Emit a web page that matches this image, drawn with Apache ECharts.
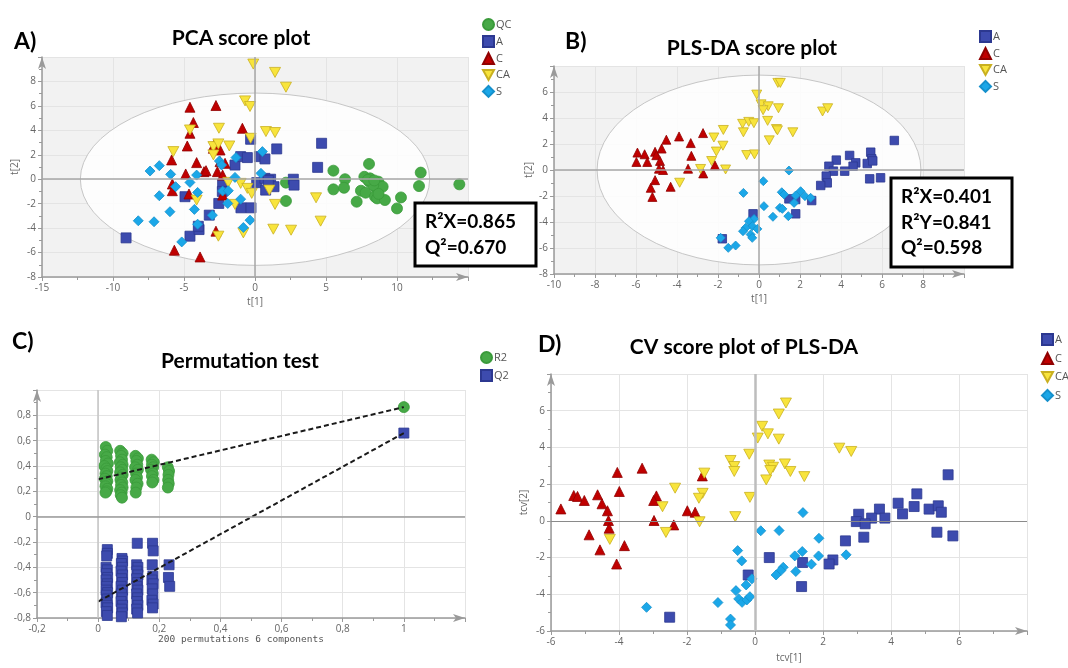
<!DOCTYPE html>
<html>
<head>
<meta charset="utf-8">
<script src="https://cdn.jsdelivr.net/npm/echarts@6/dist/echarts.min.js"></script>
<style>
  body { margin: 0; background: #fff; }
  #main { width: 1068px; height: 668px; }
</style>
</head>
<body>
<div id="main"></div>
<script>
// A) PCA scores t[1], t[2]
var pcaQC = [[5.52,0.7],[6.34,0.0],[5.52,-0.83],[6.27,-0.7],[8.03,1.25],[7.7,0.2],[8.1,0.07],[8.69,-0.2],[8.05,-0.2],[8.57,-0.83],[8.99,-0.61],[7.46,-0.94],[7.79,-1.1],[8.45,-1.43],[8.6,-1.57],[9.15,-1.7],[7.16,-1.84],[10.28,-1.49],[10.0,-2.39],[11.67,0.54],[11.55,-0.56],[14.39,-0.42],[2.18,-0.28],[2.18,-1.78],[8.33,-0.48],[7.95,-0.05],[8.4,-0.1],[8.7,-1.2]];
var pcaA = [[-9.08,-4.8],[-4.93,-1.43],[-4.58,-4.66],[-3.94,-4.12],[-3.99,-3.85],[-3.22,-2.94],[-2.55,-1.98],[-2.28,-0.42],[-2.3,-1.0],[-1.41,1.16],[-1.01,1.85],[-0.54,1.77],[-0.31,3.27],[0.31,1.85],[0.7,1.66],[1.53,2.48],[4.69,2.94],[4.41,0.97],[-0.99,-2.34],[-0.28,-2.34],[0.12,-0.28],[0.7,0.07],[1.1,0.0],[0.75,-0.89],[1.34,-0.61],[2.7,0.0],[2.75,-0.48],[0.94,-0.1]];
var pcaC = [[-4.58,5.89],[-2.75,6.03],[-4.34,4.64],[-4.58,3.76],[-4.77,2.72],[-5.87,1.58],[-4.11,1.36],[-4.88,0.43],[-5.82,-0.39],[-5.82,-0.94],[-4.65,-1.21],[-3.59,0.62],[-3.45,0.7],[-2.93,2.53],[-2.46,2.39],[-2.46,1.44],[-2.11,1.3],[-2.65,0.62],[-2.28,0.34],[-2.28,-1.3],[-0.89,4.17],[-2.75,-4.25],[-5.68,-5.81],[-3.87,-6.36],[-2.89,2.8]];
var pcaCA = [[-0.12,9.42],[1.41,8.74],[2.18,7.53],[-0.7,6.41],[-0.35,5.95],[-4.58,4.03],[-2.54,4.17],[-0.31,3.35],[0.77,3.9],[1.41,3.82],[-5.75,2.26],[-2.93,2.67],[-2.58,2.89],[-1.81,2.72],[-2.93,1.99],[-1.88,-0.26],[-1.01,-0.34],[-0.54,-0.75],[-0.23,-1.16],[1.01,-0.89],[1.41,-2.06],[-1.41,-2.06],[-4.11,-1.71],[4.3,-1.52],[4.62,-3.43],[1.29,-4.09],[2.54,-4.17],[-0.82,-4.39],[-2.58,-4.66]];
var pcaS = [[-7.39,0.67],[-6.74,1.11],[-5.94,0.4],[-5.59,-0.61],[-4.58,-0.26],[-4.11,0.34],[-6.74,-1.35],[-5.99,-2.66],[-8.22,-3.4],[-7.11,-3.48],[-5.16,-5.13],[-4.27,-2.47],[-4.04,-1.08],[-4.04,-3.68],[-3.0,-2.94],[-2.51,1.49],[-2.35,1.16],[-2.28,-0.97],[-1.88,-0.94],[-1.92,-1.98],[-1.41,0.15],[-1.34,1.77],[-1.01,-1.63],[-0.82,-3.95],[-0.35,-3.35],[0.52,2.26],[0.42,0.48]];
var pcaEllipse = [[0, 0, 12.3, 7.05]];
var pcaStats = ['R\u00b2X=0.865', 'Q\u00b2=0.670'];

// B) PLS-DA scores
var plsA = [[6.6,2.27],[5.45,1.37],[5.5,0.86],[5.28,0.5],[5.55,0.7],[4.42,1.12],[4.72,0.55],[4.59,0.29],[4.18,-0.09],[3.77,0.76],[3.41,0.29],[3.63,-0.09],[3.28,-0.47],[3.33,-0.99],[3.01,-1.19],[5.4,-0.68],[5.93,-0.6],[2.57,-2.35],[1.79,-2.27],[1.46,-2.22],[1.79,-3.37],[-0.29,-3.37],[-1.79,-5.29]];
var plsC = [[-5.93,1.34],[-5.58,1.21],[-5.98,0.62],[-5.45,0.62],[-5.07,1.4],[-5.01,1.14],[-4.75,1.65],[-4.52,2.33],[-3.9,2.58],[-3.33,2.07],[-3.3,1.09],[-2.73,2.84],[-4.83,0.7],[-4.88,0.1],[-4.68,0.0],[-3.46,0.1],[-2.72,-0.26],[-2.15,0.36],[-5.07,-0.78],[-5.28,-1.37],[-4.31,-1.29],[-5.2,-2.07]];
var plsCA = [[0.92,6.7],[1.04,6.7],[-0.11,5.8],[0.1,5.05],[0.45,4.9],[0.2,4.6],[0.95,4.75],[3.1,4.5],[3.35,4.75],[-0.8,3.55],[-0.76,2.9],[-0.5,3.7],[-0.25,3.6],[0.42,3.78],[0.85,3.15],[0.9,3.05],[1.65,2.9],[0.5,2.28],[-1.74,3.08],[-2.2,2.5],[-1.76,1.87],[-2.08,1.42],[-0.6,1.15],[-0.22,1.2],[-2.31,0.69],[-2.85,0.08],[-1.63,0.04],[-3.87,-0.98]];
var plsS = [[1.46,-0.04],[0.21,-0.86],[-0.76,-1.76],[1.11,-1.71],[1.22,-1.88],[2.03,-1.63],[2.24,-2.01],[2.52,-2.14],[1.79,-1.96],[1.71,-2.53],[0.24,-2.78],[1.02,-2.91],[1.14,-2.99],[0.68,-3.6],[1.43,-3.55],[-0.24,-3.76],[-0.49,-3.94],[-0.33,-4.32],[-0.65,-4.45],[-0.08,-4.53],[-0.78,-4.71],[-0.41,-4.96],[-0.33,-5.22],[-1.87,-5.22],[-1.14,-5.81],[-1.5,-5.99]];
var plsEllipse = [[0, 0, 7.9, 7.3]];
var plsStats = ['R\u00b2X=0.401', 'R\u00b2Y=0.841', 'Q\u00b2=0.598'];

// C) permutation test, 200 permutations
var permR2 = [[0.025,0.55],[0.03,0.52],[0.022,0.49],[0.028,0.47],[0.025,0.44],[0.032,0.42],[0.02,0.4],[0.027,0.38],[0.03,0.36],[0.024,0.34],[0.028,0.32],[0.022,0.3],[0.03,0.28],[0.026,0.26],[0.024,0.24],[0.03,0.22],[0.027,0.2],[0.024,0.19],
  [0.072,0.52],[0.08,0.5],[0.075,0.48],[0.078,0.45],[0.071,0.43],[0.08,0.41],[0.074,0.39],[0.079,0.37],[0.072,0.35],[0.08,0.33],[0.076,0.31],[0.073,0.29],[0.079,0.27],[0.075,0.25],[0.08,0.23],[0.072,0.21],[0.077,0.19],[0.074,0.17],[0.078,0.15],
  [0.122,0.48],[0.13,0.46],[0.125,0.44],[0.128,0.41],[0.121,0.39],[0.13,0.37],[0.124,0.34],[0.127,0.31],[0.122,0.29],[0.129,0.26],[0.125,0.23],[0.123,0.19],
  [0.175,0.45],[0.182,0.43],[0.176,0.41],[0.18,0.39],[0.173,0.37],[0.179,0.34],[0.176,0.32],[0.181,0.29],[0.177,0.27],
  [0.228,0.39],[0.232,0.36],[0.23,0.33],[0.229,0.29],[0.231,0.26],[0.228,0.23],
  [1,0.865]];
var permQ2 = [[0.03,-0.26],[0.03,-0.29],[0.028,-0.31],[0.026,-0.4],[0.03,-0.42],[0.027,-0.45],[0.031,-0.48],[0.026,-0.5],[0.03,-0.53],[0.028,-0.55],[0.026,-0.58],[0.031,-0.6],[0.027,-0.62],[0.03,-0.65],[0.026,-0.68],[0.029,-0.7],[0.031,-0.72],[0.027,-0.75],[0.03,-0.78],
  [0.078,-0.33],[0.08,-0.35],[0.076,-0.37],[0.079,-0.4],[0.075,-0.43],[0.08,-0.46],[0.077,-0.49],[0.079,-0.52],[0.075,-0.55],[0.08,-0.58],[0.076,-0.61],[0.079,-0.64],[0.075,-0.67],[0.08,-0.7],[0.077,-0.73],[0.079,-0.76],[0.076,-0.79],
  [0.128,-0.21],[0.126,-0.38],[0.13,-0.4],[0.127,-0.43],[0.13,-0.46],[0.126,-0.49],[0.129,-0.52],[0.127,-0.55],[0.13,-0.58],[0.126,-0.61],[0.129,-0.64],[0.127,-0.67],[0.13,-0.7],[0.126,-0.73],[0.129,-0.76],
  [0.178,-0.21],[0.18,-0.27],[0.177,-0.38],[0.179,-0.47],[0.176,-0.5],[0.18,-0.53],[0.177,-0.57],[0.179,-0.61],[0.176,-0.66],[0.18,-0.69],[0.178,-0.72],
  [0.232,-0.38],[0.23,-0.48],[0.234,-0.55],
  [1,0.66]];
var r2Line = [[0,0.295],[1,0.865]];
var q2Line = [[0,-0.67],[1,0.66]];

// D) cross-validated scores tcv[1], tcv[2]
var cvA = [[5.68,2.51],[4.76,1.47],[4.21,0.96],[4.34,0.38],[4.68,0.78],[5.12,0.64],[5.39,0.82],[5.48,0.47],[5.35,-0.62],[5.82,-0.82],[3.66,0.64],[3.82,0.15],[3.43,0.15],[3.05,0.36],[2.98,-0.04],[3.24,-0.16],[3.2,-0.89],[2.66,-1.09],[2.29,-2.13],[2.18,-2.35],[1.4,-2.27],[1.37,-3.58],[0.42,-2.0],[-0.2,-2.95],[-2.51,-5.25]];
var cvC = [[-5.71,0.65],[-5.33,1.38],[-5.22,1.33],[-5.02,1.11],[-4.63,1.42],[-4.5,0.93],[-4.34,0.55],[-4.31,0.02],[-4.29,-0.4],[-4.88,-0.76],[-4.56,-1.58],[-3.84,-1.35],[-4.07,-2.35],[-4.05,2.64],[-3.99,1.6],[-3.32,2.87],[-2.9,1.36],[-2.98,1.11],[-2.97,0.02],[-2.39,-0.22],[-1.99,0.55],[-1.76,0.47],[-1.55,2.45]];
var cvCA = [[0.91,6.42],[0.7,5.82],[0.21,5.15],[0.08,4.51],[0.38,4.74],[0.7,4.45],[2.48,3.96],[2.83,3.78],[-0.72,3.29],[-0.61,2.96],[-0.61,2.69],[-0.17,3.63],[0.42,3.04],[0.53,2.92],[0.45,2.74],[0.33,2.23],[0.88,3.1],[1.04,2.69],[1.45,2.41],[-1.49,2.6],[-2.35,1.78],[-1.54,1.5],[-1.65,1.23],[-0.15,1.28],[-2.72,0.77],[-0.58,0.23],[-1.63,-0.05],[-2.62,-0.63],[-4.27,-1.01]];
var cvS = [[-3.19,-4.71],[-1.09,-4.45],[-0.72,-5.35],[-0.72,-5.67],[-0.51,-1.62],[-0.39,-2.18],[-0.26,-3.49],[-0.09,-3.16],[-0.56,-3.8],[-0.48,-4.25],[-0.38,-4.44],[-0.24,-4.31],[-0.15,-4.13],[0.17,-0.54],[0.71,-0.53],[1.41,0.45],[1.88,-0.95],[2.68,-1.85],[1.87,-1.91],[1.39,-1.67],[1.17,-1.91],[1.66,-2.36],[1.2,-2.76],[0.83,-2.53],[0.76,-2.71],[0.62,-2.95]];

var chart = echarts.init(document.getElementById('main'));

var axisColor = '#9a9a9a';
var downTri = 'path://M0,0L10,0L5,9Z';
var green = '#47a947', blue = '#3d4bae', red = '#c00000', yellow = '#f8e43c', cyan = '#1ba7e8';

function axis(grid, min, max, step, name, gap, fmt, nameStyle) {
    return {
        type: 'value', gridIndex: grid, min: min, max: max, interval: step,
        name: name, nameLocation: 'middle', nameGap: gap,
        nameTextStyle: nameStyle || {color: '#666', fontSize: 10, fontFamily: 'Open Sans'},
        axisLine: {show: true, onZero: false, symbol: ['none', 'arrow'], symbolSize: [6, 12],
            lineStyle: {color: axisColor, width: 1.5}},
        axisTick: {show: true, length: 4, lineStyle: {color: axisColor}},
        minorTick: {show: true, splitNumber: 2, length: 3, lineStyle: {color: axisColor}},
        axisLabel: {color: '#666', fontSize: 10, fontFamily: 'Open Sans', margin: 6,
            showMaxLabel: false, formatter: fmt},
        splitLine: {show: true, lineStyle: {color: '#e4e4e4'}}
    };
}

function pts(name, data, grid, sym, size, color, border) {
    return {
        name: name, type: 'scatter', xAxisIndex: grid, yAxisIndex: grid,
        data: data, symbol: sym, symbolSize: size, z: 3,
        itemStyle: {color: color, borderColor: border, borderWidth: 0.8, opacity: 1},
        emphasis: {disabled: true}
    };
}

// zero lines of each panel
function zeroLines(grid, xColor, xWidth, yColor, yWidth) {
    return {
        type: 'scatter', xAxisIndex: grid, yAxisIndex: grid, data: [], z: 2, silent: true,
        markLine: {
            silent: true, symbol: 'none', label: {show: false}, animation: false,
            data: [
                {xAxis: 0, lineStyle: {color: xColor, width: xWidth, type: 'solid'}},
                {yAxis: 0, lineStyle: {color: yColor, width: yWidth, type: 'solid'}}
            ]
        }
    };
}

// Hotelling ellipse: centre and radii in data units
function ellipseItem(params, api) {
    var c = api.coord([api.value(0), api.value(1)]);
    var s = api.size([api.value(2), api.value(3)]);
    var rx = s[0], ry = s[1];
    var d = 'M' + (c[0] - rx) + ',' + c[1] +
        ' A' + rx + ',' + ry + ' 0 1,0 ' + (c[0] + rx) + ',' + c[1] +
        ' A' + rx + ',' + ry + ' 0 1,0 ' + (c[0] - rx) + ',' + c[1] + ' Z';
    return {
        type: 'path',
        shape: {pathData: d},
        style: {fill: 'rgba(255,255,255,0.85)', stroke: '#c6c6c6', lineWidth: 1}
    };
}

function ellipse(grid, data) {
    return {type: 'custom', xAxisIndex: grid, yAxisIndex: grid, data: data, z: 1,
        silent: true, renderItem: ellipseItem};
}

function comma(v) { return String(v).replace('.', ','); }

function legend(names, left, top, gap) {
    return {
        data: names, orient: 'vertical', left: left, top: top, itemGap: gap,
        itemWidth: 11, itemHeight: 11, selectedMode: false,
        textStyle: {color: '#555', fontSize: 11, fontFamily: 'Open Sans', padding: [0, 0, 0, -3]}
    };
}

function txt(s, x, y, size, align) {
    return {type: 'text', x: x, y: y, z: 20,
        style: {text: s, font: 'bold ' + size + 'px Lato', fill: '#000',
            textAlign: align || 'left', textVerticalAlign: 'middle'}};
}

var graphic = [
    txt('A)', 14, 42, 23), txt('PCA score plot', 241, 38, 21, 'center'),
    txt('B)', 565, 42, 23), txt('PLS-DA score plot', 752, 48, 21, 'center'),
    txt('C)', 12, 342, 23), txt('Permutation test', 240, 361, 21, 'center'),
    txt('D)', 538, 345, 23), txt('CV score plot of PLS-DA', 744, 347, 21, 'center'),
    {type: 'rect', z: 19, shape: {x: 415, y: 203, width: 121, height: 63},
        style: {fill: '#fff', stroke: '#000', lineWidth: 3}},
    {type: 'rect', z: 19, shape: {x: 891, y: 178, width: 121, height: 89},
        style: {fill: '#fff', stroke: '#000', lineWidth: 3}}
];
for (var i = 0; i < pcaStats.length; i++) {
    graphic.push(txt(pcaStats[i], 425, 222 + i * 25.5, 19));
}
for (var j = 0; j < plsStats.length; j++) {
    graphic.push(txt(plsStats[j], 901, 197 + j * 25.5, 19));
}

var option = {
    animation: false,
    backgroundColor: '#ffffff',
    grid: [
        {left: 42, top: 57, width: 426, height: 220, show: true, backgroundColor: '#f2f2f2', borderWidth: 0},
        {left: 554, top: 66, width: 410, height: 208, show: true, backgroundColor: '#f2f2f2', borderWidth: 0},
        {left: 37, top: 390, width: 428, height: 228},
        {left: 551, top: 374, width: 476, height: 257}
    ],
    xAxis: [
        axis(0, -15, 15, 5, 't[1]', 20),
        axis(1, -10, 10, 2, 't[1]', 20),
        axis(2, -0.2, 1.2, 0.2, '200 permutations 6 components', 17, comma,
            {color: '#555', fontSize: 9.5, fontFamily: 'DejaVu Sans Mono', padding: [0, 20, 0, 0]}),
        axis(3, -6, 8, 2, 'tcv[1]', 22)
    ],
    yAxis: [
        axis(0, -8, 10, 2, 't[2]', 22),
        axis(1, -8, 8, 2, 't[2]', 20),
        axis(2, -0.8, 1.0, 0.2, '', 20, comma),
        axis(3, -6, 8, 2, 'tcv[2]', 22)
    ],
    legend: [
        legend(['QC', 'A', 'C', 'CA', 'S'], 477, 13, 4),
        legend(['A', 'C', 'CA', 'S'], 974, 25, 4),
        legend(['R2', 'Q2'], 475, 346, 5),
        legend(['A', 'C', 'CA', 'S'], 1036, 328, 6)
    ],
    graphic: graphic,
    series: [
        ellipse(0, pcaEllipse),
        zeroLines(0, '#a6a6a6', 1.5, '#a6a6a6', 1.5),
        pts('QC', pcaQC, 0, 'circle', 11, green, '#3a9a3a'),
        pts('A', pcaA, 0, 'rect', 10, blue, '#2c3890'),
        pts('C', pcaC, 0, 'triangle', 10, red, '#900000'),
        pts('CA', pcaCA, 0, downTri, [11, 10], yellow, '#c9b020'),
        pts('S', pcaS, 0, 'diamond', 10, cyan, '#1590cc'),

        ellipse(1, plsEllipse),
        zeroLines(1, '#a6a6a6', 1.5, '#a6a6a6', 1.5),
        pts('A', plsA, 1, 'rect', 8.5, blue, '#2c3890'),
        pts('C', plsC, 1, 'triangle', 9, red, '#900000'),
        pts('CA', plsCA, 1, downTri, [10, 9], yellow, '#c9b020'),
        pts('S', plsS, 1, 'diamond', 9, cyan, '#1590cc'),

        zeroLines(2, '#c4c4c4', 1.5, '#9a9a9a', 1.5),
        pts('R2', permR2, 2, 'circle', 11, green, '#3a9a3a'),
        pts('Q2', permQ2, 2, 'rect', 10, blue, '#2c3890'),
        {type: 'line', xAxisIndex: 2, yAxisIndex: 2, data: r2Line, symbol: 'none', z: 4, silent: true,
            lineStyle: {color: '#1a1a1a', width: 2, type: [5, 3]}},
        {type: 'line', xAxisIndex: 2, yAxisIndex: 2, data: q2Line, symbol: 'none', z: 4, silent: true,
            lineStyle: {color: '#1a1a1a', width: 2, type: [5, 3]}},

        zeroLines(3, '#bdbdbd', 2.5, '#8a8a8a', 1.2),
        pts('A', cvA, 3, 'rect', 10, blue, '#2c3890'),
        pts('C', cvC, 3, 'triangle', 10, red, '#900000'),
        pts('CA', cvCA, 3, downTri, [11, 10], yellow, '#c9b020'),
        pts('S', cvS, 3, 'diamond', 10, cyan, '#1590cc')
    ]
};

chart.setOption(option);
</script>
</body>
</html>
